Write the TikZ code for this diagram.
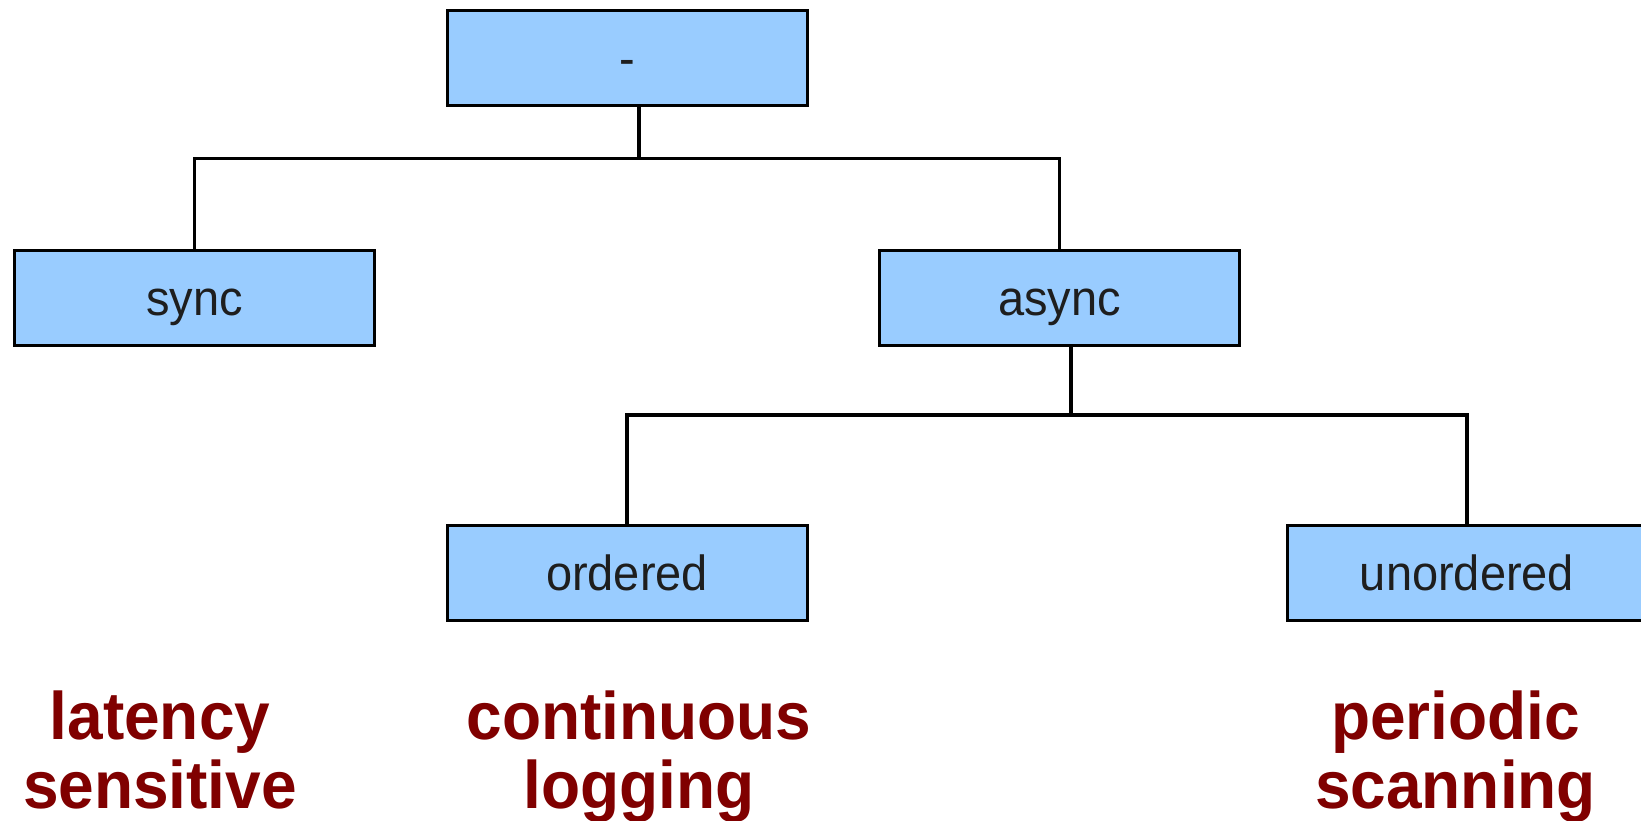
\documentclass[tikz,border=0pt]{standalone}
\usepackage{fontspec}
\setmainfont{Liberation Sans}
\definecolor{boxfill}{HTML}{99CCFF}
\definecolor{boxtext}{HTML}{1E1E1E}
\definecolor{notered}{HTML}{800000}
\newcommand{\tallline}[1]{\scalebox{1}[1.05]{#1}}
\begin{document}
\begin{tikzpicture}[x=1pt,y=-1pt,
  catbox/.style={draw=black, line width=3pt, line join=miter, fill=boxfill,
    minimum width=360pt, minimum height=95.2pt, inner sep=0pt,
    text height=35pt, text depth=0pt, text=boxtext,
    font=\fontsize{47}{56}\selectfont},
  wire/.style={draw=black, line width=3.2pt, line join=miter},
  usecase/.style={text=notered, align=center, inner sep=0pt, anchor=base,
    font=\fontsize{64}{69.5}\selectfont\bfseries}]

\useasboundingbox[fill=white] (0,0) rectangle (1641,821);
\clip (0,0) rectangle (1641,821);

% tree of categories
\node[catbox] (root)      at (627,58.1)    {\tallline{-}};
\node[catbox] (sync)      at (194.7,298.1) {\tallline{sync}};
\node[catbox] (async)     at (1059.4,298.1){\tallline{async}};
\node[catbox] (ordered)   at (627,573)     {\tallline{ordered}};
\node[catbox] (unordered) at (1467,573)    {\tallline{unordered}};

% junctions of the connector lines
\coordinate (j1) at (639,158.5);
\coordinate (j2) at (1071,415);

\draw[wire] ([xshift=12pt]root.south) -- (j1);
\draw[wire] (sync.north) |- (j1) -| (async.north);
\draw[wire] ([xshift=11.6pt]async.south) -- (j2);
\draw[wire] (ordered.north) |- (j2) -| (unordered.north);

% typical uses (anchored at the baseline of the second line)
\node[usecase] (uselat)  at (160,808.5)    {\tallline{latency}\\\tallline{sensitive}};
\node[usecase] (uselog)  at (639,808.5)    {\tallline{continuous}\\\tallline{logging}};
\node[usecase] (usescan) at (1455.5,808.5) {\tallline{periodic}\\\tallline{scanning}};
\end{tikzpicture}
\end{document}
